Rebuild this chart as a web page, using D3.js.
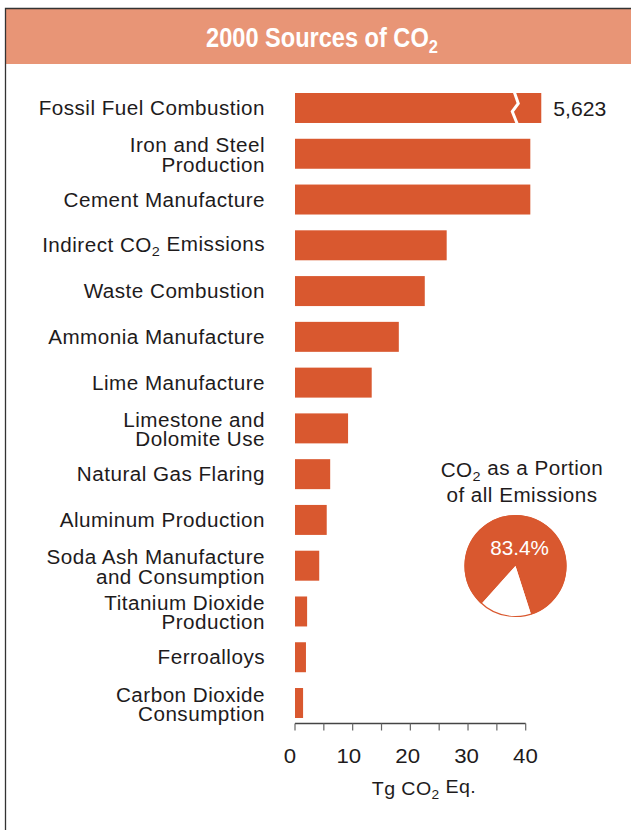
<!DOCTYPE html>
<html>
<head>
<meta charset="utf-8">
<script src="https://cdn.jsdelivr.net/npm/d3@7"></script>
<style>
  body { margin: 0; background: #fff; }
  svg { display: block; }
  text { font-family: "Liberation Sans", Arial, Helvetica, sans-serif; fill: #1e1b1c; }
</style>
</head>
<body>
<script>
var width = 631, height = 830;
var barColor = "#d9582f", bandColor = "#e89576";
var wide = 1.06; // horizontal stretch so Arial looks like the wider original face

// category labels, "|" splits lines, "_2" marks a subscript 2
var categories = [
  "Fossil Fuel Combustion",
  "Iron and Steel|Production",
  "Cement Manufacture",
  "Indirect CO_2 Emissions",
  "Waste Combustion",
  "Ammonia Manufacture",
  "Lime Manufacture",
  "Limestone and|Dolomite Use",
  "Natural Gas Flaring",
  "Aluminum Production",
  "Soda Ash Manufacture|and Consumption",
  "Titanium Dioxide|Production",
  "Ferroalloys",
  "Carbon Dioxide|Consumption"
];
var values = [5623, 40.8, 40.8, 26.3, 22.5, 18.0, 13.3, 9.2, 6.1, 5.5, 4.2, 2.1, 1.9, 1.4];
var axisTicks = [0, 10, 20, 30, 40];
var minorTicks = [0, 5, 10, 15, 20, 25, 30, 35, 40];
var breakAt = 42.7;          // bars longer than this are drawn broken
var pieShares = [83.4, 16.6]; // CO2, other gases

// write a string into a text element, turning "_2" into a subscript
function subText(sel, str) {
  var parts = str.split("_2");
  parts.forEach(function(p, i) {
    if (i > 0) {
      sel.append("tspan").attr("font-size", "70%").attr("dy", "0.3em").text("2");
      sel.append("tspan").attr("dy", "-0.3em").text(p);
    } else {
      sel.append("tspan").text(p);
    }
  });
}

// text placed at (px,py) and stretched sideways around that point
function wideText(parent, px, py, anchor) {
  return parent.append("text")
    .attr("transform", "translate(" + px + "," + py + ") scale(" + wide + ",1)")
    .attr("text-anchor", anchor);
}

var svg = d3.select("body").append("svg")
  .attr("width", width)
  .attr("height", height);

// frame and title band
svg.append("rect").attr("x", 5).attr("y", 9).attr("width", 700).attr("height", 55)
  .attr("fill", bandColor);
svg.append("path").attr("d", "M5.5,830V8.5H640")
  .attr("fill", "none").attr("stroke", "#333").attr("stroke-width", 1.3);

// title, squeezed to look like a condensed face
var title = svg.append("text")
  .attr("x", 0).attr("y", 47)
  .attr("text-anchor", "middle")
  .style("font-weight", "bold")
  .style("font-size", "27px")
  .style("fill", "#fff");
subText(title, "2000 Sources of CO_2");
var tw = title.node().getBBox().width;
title.attr("transform", "translate(322,0) scale(" + (232 / tw) + ",1)");

// scales
var x = d3.scaleLinear().domain([0, 40]).range([295, 525.7]);
var y = d3.scaleBand().domain(categories).range([93, 718]).paddingInner(0.345).paddingOuter(0);

// bars
svg.selectAll("rect.bar").data(categories).enter().append("rect")
  .attr("class", "bar")
  .attr("x", x(0))
  .attr("y", function(d) { return y(d); })
  .attr("width", function(d, i) { return x(Math.min(values[i], breakAt)) - x(0); })
  .attr("height", y.bandwidth())
  .attr("fill", barColor);

// break marks + value label for broken bars
categories.forEach(function(d, i) {
  if (values[i] <= breakAt) return;
  var bx = x(breakAt) - 27, y0 = y(d), h = y.bandwidth();
  svg.append("path")
    .attr("d", "M" + bx + "," + (y0 - 1) + "L" + (bx + 4) + "," + (y0 + h * 0.35) +
      "L" + (bx - 2) + "," + (y0 + h * 0.62) + "L" + (bx + 3) + "," + (y0 + h + 1))
    .attr("fill", "none").attr("stroke", "#fff").attr("stroke-width", 3);
  wideText(svg, x(breakAt) + 12, y0 + h / 2 + 8, "start")
    .style("font-size", "20px")
    .text(d3.format(",")(values[i]));
});

// category labels
categories.forEach(function(d) {
  var lines = d.split("|");
  var cy = y(d) + y.bandwidth() / 2;
  lines.forEach(function(l, k) {
    var base = lines.length === 1 ? cy + 7 : cy - 1.5 + k * 19.5;
    var t = wideText(svg, 265, base, "end")
      .attr("class", "cat")
      .style("font-size", "19.5px")
      .style("letter-spacing", "0.45px");
    subText(t, l);
  });
});

// x axis
var axisY = 723.5;
var axis = svg.append("g").attr("transform", "translate(0," + axisY + ")");
axis.append("line").attr("x1", x(0)).attr("x2", x(40))
  .attr("stroke", "#444").attr("stroke-width", 1.5);
axis.selectAll("line.tick").data(minorTicks).enter().append("line")
  .attr("class", "tick")
  .attr("x1", function(d) { return x(d); }).attr("x2", function(d) { return x(d); })
  .attr("y1", 0).attr("y2", 7)
  .attr("stroke", "#666").attr("stroke-width", 1.2);
axisTicks.forEach(function(d) {
  wideText(axis, x(d) - 5 + d * 0.12, 39, "middle")
    .style("font-size", "21px")
    .text(d);
});

var xTitle = wideText(svg, 424, 795, "middle")
  .style("font-size", "18.5px")
  .style("letter-spacing", "0.4px");
subText(xTitle, "Tg CO_2 Eq.");

// pie inset
var pieTitle = ["CO_2 as a Portion", "of all Emissions"];
pieTitle.forEach(function(l, k) {
  var t = wideText(svg, 522, 477 + k * 24.5, "middle")
    .style("font-size", "19.5px")
    .style("letter-spacing", "0.45px");
  subText(t, l);
});

var r = 51;
var pie = d3.pie().sort(null).startAngle(222 * Math.PI / 180).endAngle(582 * Math.PI / 180);
var arc = d3.arc().innerRadius(0).outerRadius(r);
var pg = svg.append("g").attr("transform", "translate(515.5,566)");
pg.selectAll("path").data(pie(pieShares)).enter().append("path")
  .attr("d", arc)
  .attr("fill", function(d, i) { return i === 0 ? barColor : "#fff"; });
pg.append("circle").attr("r", r - 0.5)
  .attr("fill", "none").attr("stroke", barColor).attr("stroke-width", 1.2);
wideText(pg, 4, -11, "middle")
  .style("font-size", "19.5px")
  .style("fill", "#fff")
  .text(pieShares[0] + "%");
</script>
</body>
</html>
